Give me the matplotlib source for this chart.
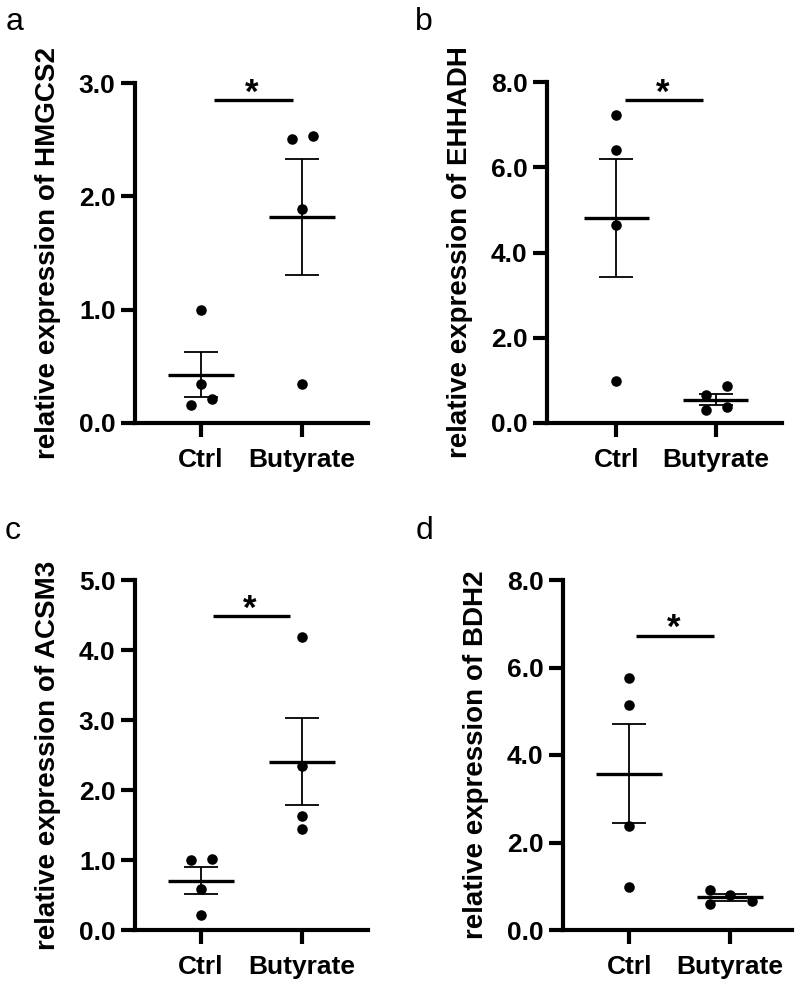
import numpy as np
import matplotlib
matplotlib.use("Agg")
import matplotlib.pyplot as plt

# ---- data (n = 4 per group) ----
groups = ["Ctrl", "Butyrate"]
genes = ["HMGCS2", "EHHADH", "ACSM3", "BDH2"]
letters = ["a", "b", "c", "d"]

hmgcs2_ctrl = [1.00, 0.34, 0.16, 0.21]
hmgcs2_but = [2.51, 2.53, 1.89, 0.34]
ehhadh_ctrl = [7.22, 6.40, 4.64, 0.99]
ehhadh_but = [0.66, 0.86, 0.31, 0.37]
acsm3_ctrl = [1.00, 1.02, 0.59, 0.21]
acsm3_but = [4.18, 2.35, 1.63, 1.45]
bdh2_ctrl = [5.75, 5.15, 2.38, 0.99]
bdh2_but = [0.91, 0.81, 0.59, 0.67]

ymax = [3.0, 8.0, 5.0, 8.0]
ystep = [1.0, 2.0, 1.0, 2.0]
sig_y = [2.85, 7.57, 4.48, 6.73]

# ---- layout / style ----
W, H = 800, 982
INK = "black"
plt.rcParams.update({
    "font.family": ["Liberation Sans", "DejaVu Sans"],
    "font.weight": "bold",
    "axes.linewidth": 3.0,
})

# horizontal offsets of the dots (scatter-dot layout)
jitter = [
    ([0, 0, -0.10, 0.11], [-0.10, 0.11, 0, 0]),
    ([0, 0, 0, 0], [-0.10, 0.12, -0.10, 0.12]),
    ([-0.10, 0.11, 0, 0], [0, 0, 0, 0]),
    ([0, 0, 0, 0], [-0.20, 0, -0.20, 0.22]),
]
# axes boxes in pixels: left, top, right, bottom
boxes = [(135, 83, 368, 423), (547, 82, 782, 423),
         (135, 580, 368, 930), (563, 580, 792, 930)]
xlims = [(-0.653, 1.653), (-0.70, 1.67), (-0.653, 1.653), (-0.66, 1.62)]
sig_x = [(0.13, 0.91), (0.09, 0.87), (0.12, 0.88), (0.07, 0.84)]
letter_pos = [(6, 30), (415, 30), (5, 539), (416, 539)]

data = [(hmgcs2_ctrl, hmgcs2_but), (ehhadh_ctrl, ehhadh_but),
        (acsm3_ctrl, acsm3_but), (bdh2_ctrl, bdh2_but)]

fig = plt.figure(figsize=(W / 100, H / 100), dpi=100)

for i, ax_box in enumerate(boxes):
    l, t, r, b = ax_box
    ax = fig.add_axes([l / W, 1 - b / H, (r - l) / W, (b - t) / H])
    for gi, vals in enumerate(data[i]):
        vals = np.asarray(vals)
        xs = gi + np.asarray(jitter[i][gi])
        ax.plot(xs, vals, "o", color=INK, ms=7.6, mew=0, clip_on=False, zorder=4)
        m = vals.mean()
        sem = vals.std(ddof=1) / np.sqrt(len(vals))
        ax.plot([gi - 0.33, gi + 0.33], [m, m], color=INK, lw=2.4, zorder=3,
                solid_capstyle="butt")
        ax.errorbar(gi, m, yerr=sem, fmt="none", ecolor=INK, elinewidth=1.3,
                    capsize=12, capthick=1.3, zorder=3)
    # significance bar
    x0, x1 = sig_x[i]
    ax.plot([x0, x1], [sig_y[i], sig_y[i]], color=INK, lw=2.4, clip_on=False,
            solid_capstyle="butt")
    ax.annotate("*", xy=((x0 + x1) / 2, sig_y[i]), xytext=(-1, -7),
                textcoords="offset points", ha="center", va="bottom",
                fontsize=25, fontweight="bold", color=INK)

    ax.set_xlim(*xlims[i])
    ax.set_ylim(0, ymax[i])
    ax.set_yticks(np.arange(0, ymax[i] + 1e-9, ystep[i]))
    ax.yaxis.set_major_formatter(matplotlib.ticker.FormatStrFormatter("%.1f"))
    ax.set_xticks([0, 1])
    ax.set_xticklabels(groups)
    ax.spines[["top", "right"]].set_visible(False)
    ax.tick_params(axis="both", length=10, width=3.0, labelsize=19, colors=INK)
    ax.tick_params(axis="y", pad=4)
    ax.tick_params(axis="x", pad=8)
    ax.set_ylabel(f"relative expression of {genes[i]}", fontsize=20,
                  fontweight="bold", labelpad=13)
    fig.text(letter_pos[i][0] / W, 1 - letter_pos[i][1] / H, letters[i],
             fontsize=23, fontweight="normal", ha="left", va="baseline")

fig.savefig("out.png", dpi=100, facecolor="white")
